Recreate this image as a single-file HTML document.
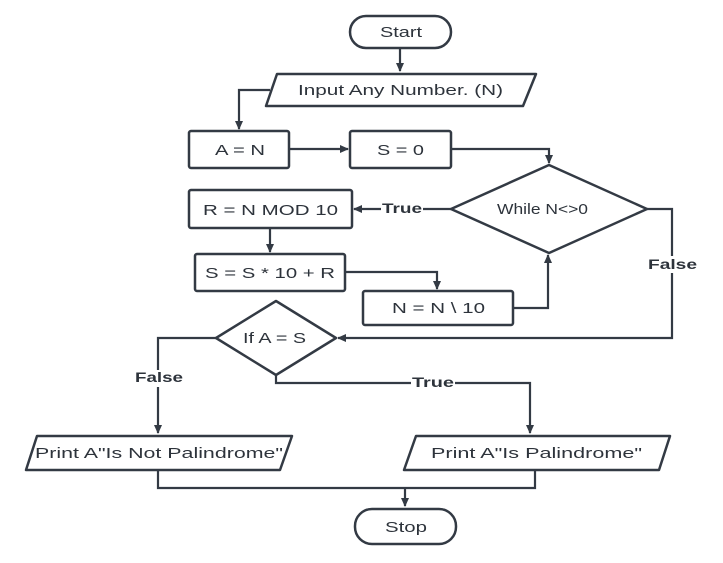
<!DOCTYPE html>
<html><head><meta charset="utf-8"><style>
html,body{margin:0;padding:0;background:#fff;}
svg text{font-family:"Liberation Sans",sans-serif;fill:#2d333b;}
</style></head><body>
<svg width="723" height="558" viewBox="0 0 723 558" xmlns="http://www.w3.org/2000/svg">
<defs><marker id="a" markerWidth="10" markerHeight="10" refX="8" refY="5" orient="auto" markerUnits="userSpaceOnUse"><path d="M0,1 L9,5 L0,9 Z" fill="#333a44"/></marker></defs>
<g fill="none" stroke="#333a44" stroke-width="2.5" stroke-linejoin="round">
<rect x="350" y="16" width="101" height="32" rx="16"/>
<path d="M277,74 L536,74 L523,106 L266,106 Z"/>
<rect x="189" y="131" width="100" height="37" rx="2"/>
<rect x="350" y="131" width="101" height="37" rx="2"/>
<path d="M549,165 L647,209 L549,253 L451,209 Z"/>
<rect x="189" y="190" width="163" height="38" rx="2"/>
<rect x="195" y="254" width="150" height="37" rx="2"/>
<rect x="363" y="291" width="150" height="34" rx="2"/>
<path d="M276,301 L336,338 L276,375 L216,338 Z"/>
<path d="M37,436 L292,436 L280,470 L26,470 Z"/>
<path d="M416,436 L670,436 L659,470 L404,470 Z"/>
<rect x="355" y="509" width="101" height="35" rx="17"/>
</g>
<g fill="none" stroke="#333a44" stroke-width="2.2">
<path d="M400,48 L400,71" marker-end="url(#a)"/>
<path d="M270,90 L239,90 L239,129" marker-end="url(#a)"/>
<path d="M289,149 L348,149" marker-end="url(#a)"/>
<path d="M451,149 L549,149 L549,163" marker-end="url(#a)"/>
<path d="M451,209 L423,209 M381,209 L354,209" marker-end="url(#a)"/>
<path d="M270,228 L270,252" marker-end="url(#a)"/>
<path d="M345,272 L437,272 L437,289" marker-end="url(#a)"/>
<path d="M513,308 L548,308 L548,255" marker-end="url(#a)"/>
<path d="M647,209 L672,209 L672,256 M672,273 L672,338 L338,338" marker-end="url(#a)"/>
<path d="M216,338 L158,338 L158,370 M158,387 L158,433" marker-end="url(#a)"/>
<path d="M276,375 L276,383 L411,383 M455,383 L530,383 L530,433" marker-end="url(#a)"/>
<path d="M158,470 L158,488 L535,488 L535,470 M405,488 L405,506" marker-end="url(#a)"/>
</g>
<g font-size="15" lengthAdjust="spacingAndGlyphs">
<text x="380" y="37" textLength="42" lengthAdjust="spacingAndGlyphs">Start</text>
<text x="298" y="95" textLength="205" lengthAdjust="spacingAndGlyphs">Input Any Number. (N)</text>
<text x="215" y="155" textLength="50" lengthAdjust="spacingAndGlyphs">A = N</text>
<text x="377" y="155" textLength="47" lengthAdjust="spacingAndGlyphs">S = 0</text>
<text x="497" y="214" textLength="91" lengthAdjust="spacingAndGlyphs">While N&lt;&gt;0</text>
<text x="203" y="215" textLength="135" lengthAdjust="spacingAndGlyphs">R = N MOD 10</text>
<text x="205" y="278" textLength="130" lengthAdjust="spacingAndGlyphs">S = S * 10 + R</text>
<text x="392" y="313" textLength="93" lengthAdjust="spacingAndGlyphs">N = N \ 10</text>
<text x="243" y="343" textLength="63" lengthAdjust="spacingAndGlyphs">If A = S</text>
<text x="35" y="458" textLength="248" lengthAdjust="spacingAndGlyphs">Print  A"Is Not Palindrome"</text>
<text x="431" y="458" textLength="211" lengthAdjust="spacingAndGlyphs">Print  A"Is Palindrome"</text>
<text x="385" y="532" textLength="42" lengthAdjust="spacingAndGlyphs">Stop</text>
</g>
<g font-size="14" font-weight="bold">
<text x="382" y="213" textLength="40" lengthAdjust="spacingAndGlyphs">True</text>
<text x="648" y="269" textLength="49" lengthAdjust="spacingAndGlyphs">False</text>
<text x="135" y="382" textLength="48" lengthAdjust="spacingAndGlyphs">False</text>
<text x="412" y="387" textLength="42" lengthAdjust="spacingAndGlyphs">True</text>
</g>
</svg>
</body></html>
